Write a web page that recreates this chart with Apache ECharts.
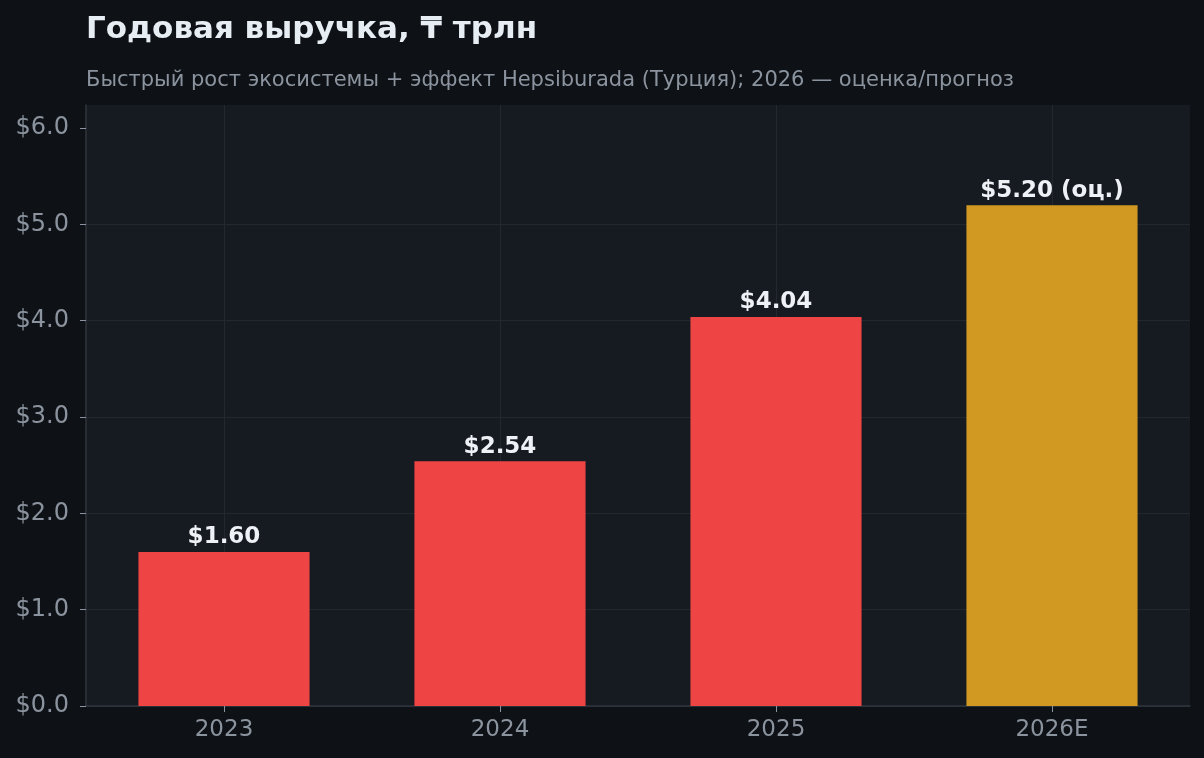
<!DOCTYPE html>
<html>
<head>
<meta charset="utf-8">
<script src="https://cdn.jsdelivr.net/npm/echarts@6/dist/echarts.min.js"></script>
<style>
  html, body { margin: 0; padding: 0; background: #0e1116; }
  #chart { width: 1204px; height: 758px; }
</style>
</head>
<body>
<div id="chart"></div>
<script>
// данные графика
var categories = ['2023', '2024', '2025', '2026E'];
var revenue = [1.60, 2.54, 4.04, 5.20];
var labelSuffix = ['', '', '', ' (оц.)'];
var barColors = ['#ef4444', '#ef4444', '#ef4444', '#d29922'];
var yTicks = [0, 1, 2, 3, 4, 5, 6];

var font = 'DejaVu Sans';
var myChart = echarts.init(document.getElementById('chart'));

var option = {
    backgroundColor: '#0e1116',
    animation: false,
    title: [
        {
            text: 'Годовая выручка, ₸ трлн',
            left: 86,
            top: 14,
            padding: 0,
            textStyle: { color: '#e6edf3', fontFamily: font, fontWeight: 'bold', fontSize: 31 }
        },
        {
            text: 'Быстрый рост экосистемы + эффект Hepsiburada (Турция); 2026 — оценка/прогноз',
            left: 86,
            top: 70,
            padding: 0,
            textStyle: { color: '#8b949e', fontFamily: font, fontWeight: 'normal', fontSize: 21 }
        }
    ],
    grid: {
        left: 86,
        right: 14,
        top: 105,
        bottom: 52,
        show: true,
        backgroundColor: '#161a21',
        borderWidth: 0
    },
    xAxis: {
        type: 'category',
        data: categories,
        axisLine: { show: true, lineStyle: { color: '#30363d', width: 1.5 } },
        axisTick: { show: true, alignWithLabel: true, length: 6, lineStyle: { color: '#8b949e' } },
        axisLabel: { color: '#8b949e', fontFamily: font, fontSize: 23, margin: 13 },
        splitLine: { show: true, alignWithLabel: true, lineStyle: { color: '#222730', width: 1 } }
    },
    yAxis: {
        type: 'value',
        min: 0,
        max: 6.24,
        interval: 1,
        axisLine: { show: true, lineStyle: { color: '#30363d', width: 1.5 } },
        axisTick: { show: true, length: 6, customValues: yTicks, lineStyle: { color: '#8b949e' } },
        axisLabel: {
            color: '#8b949e', fontFamily: font, fontSize: 24, margin: 17,
            padding: [7, 0, 0, 0],
            customValues: yTicks,
            formatter: function (v) { return '$' + v.toFixed(1); }
        },
        splitLine: { show: true, showMaxLine: false, lineStyle: { color: '#222730', width: 1 } }
    },
    series: [
        {
            type: 'bar',
            barWidth: '62%',
            data: revenue.map(function (v, i) {
                return { value: v, itemStyle: { color: barColors[i] } };
            }),
            label: {
                show: true,
                position: 'top',
                distance: 3,
                color: '#eef1f5',
                fontFamily: font,
                fontWeight: 'bold',
                fontSize: 23,
                formatter: function (p) {
                    return '$' + p.value.toFixed(2) + labelSuffix[p.dataIndex];
                }
            }
        }
    ]
};
myChart.setOption(option);
</script>
</body>
</html>
